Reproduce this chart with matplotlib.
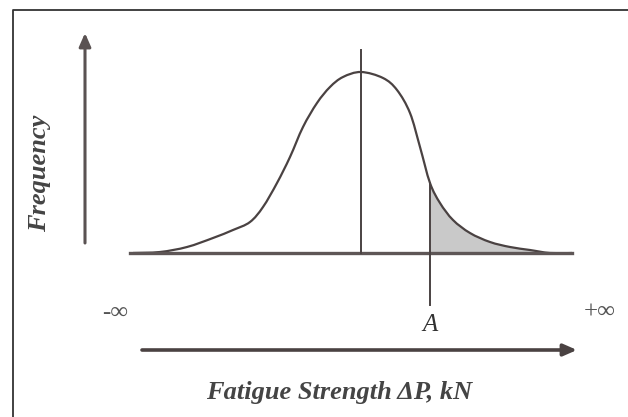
import numpy as np
import matplotlib
matplotlib.use('Agg')
import matplotlib.pyplot as plt
from matplotlib.path import Path
from matplotlib.patches import PathPatch

# frequency curve (x in px, height above baseline in px)
curve_x = [133, 160, 187, 213, 233, 250, 263, 277, 290, 303, 317, 330, 343, 361,
           383, 397, 410, 420, 430, 440, 453, 470, 490, 510, 530, 550, 572]
curve_freq = [0, 1, 6, 15, 23, 31, 46, 70, 96, 126, 150, 166, 176, 181,
              175, 163, 140, 106, 70, 50, 33, 20, 11, 6, 3, 0, 0]
mean_x = 361
a_x = 430
labels = ['-\u221e', '+\u221e', 'A']
xlabel = 'Fatigue Strength \u0394P, kN'
ylabel = 'Frequency'

plt.rcParams['font.family'] = ['Liberation Serif', 'DejaVu Serif']
ink = '#4a4242'


def smooth_path(xs, ys):
    # catmull-rom through the read points, drawn as cubic beziers
    p = np.column_stack([xs, ys]).astype(float)
    pts = np.vstack([p[0], p, p[-1]])
    verts = [p[0]]
    codes = [Path.MOVETO]
    for i in range(1, len(pts) - 2):
        c1 = pts[i] + (pts[i + 1] - pts[i - 1]) / 6
        c2 = pts[i + 1] - (pts[i + 2] - pts[i]) / 6
        verts += [c1, c2, pts[i + 1]]
        codes += [Path.CURVE4] * 3
    return Path(verts, codes)


fig = plt.figure(figsize=(6.28, 4.17), dpi=100)
ax = fig.add_axes([0, 0, 1, 1])
ax.set_xlim(0, 628)
ax.set_ylim(-164, 253)
ax.axis('off')

# frame (runs off the right and bottom edge)
ax.plot([13, 13, 640], [-170, 243, 243], color='#333333', lw=1.3, clip_on=False)

cx = np.array(curve_x)
cf = np.array(curve_freq)
tail = cx >= a_x
ax.fill_between(cx[tail], 0, cf[tail], color='#c9c9c9', lw=0)
ax.add_patch(PathPatch(smooth_path(cx, cf), fill=False, edgecolor=ink, lw=1.6))

ax.plot([130, 572], [0, 0], color='#5e5656', lw=2.4)
ax.plot([mean_x, mean_x], [0, 203], color=ink, lw=1.4)
ax.plot([a_x, a_x], [-52, 70], color=ink, lw=1.4)

# axis arrows
ax.annotate('', xy=(85, 220), xytext=(85, 10),
            arrowprops=dict(arrowstyle='-|>,head_width=0.35,head_length=0.8',
                            color='#5a5252', lw=2.2, shrinkA=0, shrinkB=0))
ax.annotate('', xy=(577, -97), xytext=(142, -97),
            arrowprops=dict(arrowstyle='-|>,head_width=0.35,head_length=0.8',
                            color='#4a4242', lw=2.6, shrinkA=0, shrinkB=0))

ax.text(115, -60, labels[0], ha='center', va='center', fontsize=18, color='#555')
ax.text(600, -60, labels[1], ha='center', va='center', fontsize=18, color='#555')
ax.text(430, -72, labels[2], ha='center', va='center', fontsize=18,
        style='italic', color='#333')
ax.text(339, -139, xlabel, ha='center', va='center', fontsize=19,
        style='italic', weight='bold', color='#444')
ax.text(40, 80, ylabel, ha='center', va='center', fontsize=19, rotation=90,
        style='italic', weight='bold', color='#444')

fig.savefig('out.png', dpi=100)
